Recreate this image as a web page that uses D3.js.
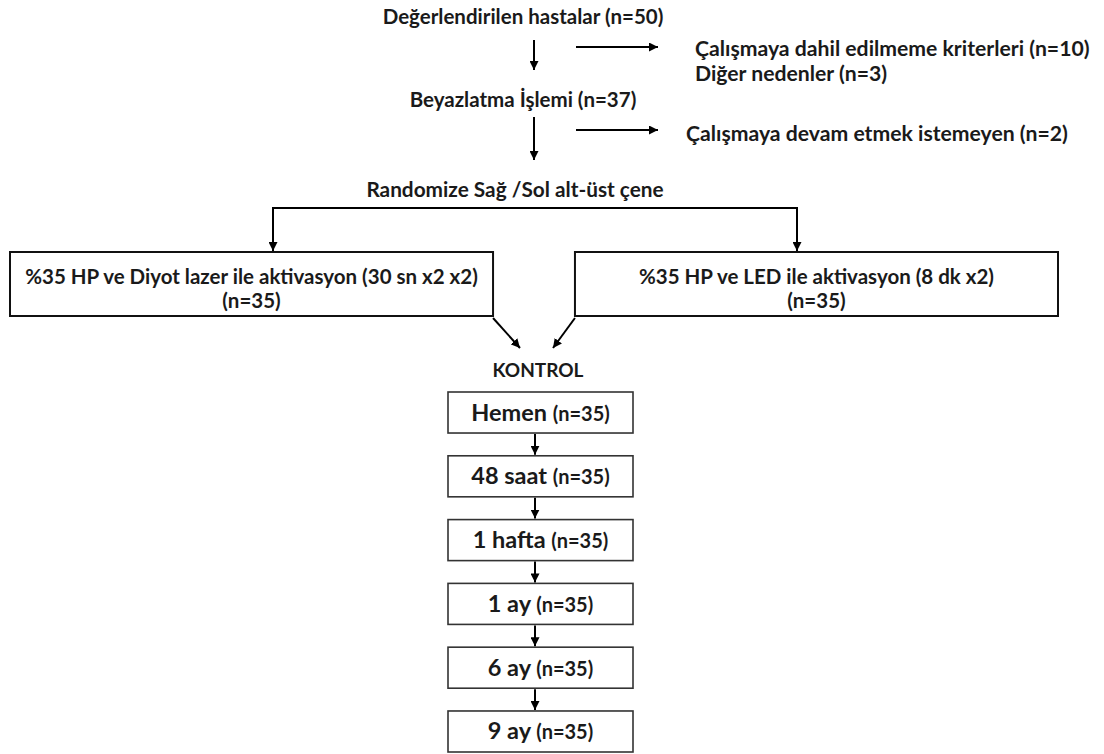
<!DOCTYPE html>
<html>
<head>
<meta charset="utf-8">
<script src="https://cdn.jsdelivr.net/npm/d3@7"></script>
<style>
  body { margin: 0; background: #fff; }
  text { font-family: Lato, "Open Sans", sans-serif; font-weight: bold; fill: #1a1a1a; }
</style>
</head>
<body>
<div id="chart"></div>
<script>
// Flow steps at the top
const topSteps = ["Değerlendirilen hastalar (n=50)", "Beyazlatma İşlemi (n=37)", "Randomize Sağ /Sol alt-üst çene"];
// Patients leaving the study at each step
const exclusions = [
  ["Çalışmaya dahil edilmeme kriterleri (n=10)", "Diğer nedenler (n=3)"],
  ["Çalışmaya devam etmek istemeyen (n=2)"]
];
// Treatment groups
const groupLabels = ["%35 HP ve Diyot lazer ile aktivasyon  (30 sn x2 x2)", "%35 HP ve LED ile aktivasyon (8 dk x2)"];
const groupN = [35, 35];
// Control timeline
const controlLabel = "KONTROL";
const stages = ["Hemen", "48 saat", "1 hafta", "1 ay", "6 ay", "9 ay"];
const stageN = [35, 35, 35, 35, 35, 35];

const W = 1104, H = 754;
const cx = 534;              // main vertical flow
const stepX = [523, 523, 515];
const stepBaseline = [24, 107, 197];
const stepSize = ["20.5px", "20.5px", "20.8px"];
const exitArrowY = [47, 130];
const exitX = [695, 686];
const exitBaseline = [[56, 81], [141]];
const fs = "20.5px";

const svg = d3.select("#chart").append("svg")
  .attr("width", W)
  .attr("height", H);

// arrow head
svg.append("defs").append("marker")
  .attr("id", "head")
  .attr("viewBox", "0 0 10 10")
  .attr("refX", 10).attr("refY", 5)
  .attr("markerUnits", "userSpaceOnUse")
  .attr("markerWidth", 9).attr("markerHeight", 9)
  .attr("orient", "auto")
  .append("path")
  .attr("d", "M0,0 L10,5 L0,10 z")
  .attr("fill", "#000");

function arrow(x1, y1, x2, y2) {
  svg.append("line")
    .attr("x1", x1).attr("y1", y1)
    .attr("x2", x2).attr("y2", y2)
    .attr("stroke", "#000")
    .attr("stroke-width", 2)
    .attr("marker-end", "url(#head)");
}

// top steps
svg.selectAll(".step")
  .data(topSteps)
  .enter().append("text")
  .attr("class", "step")
  .attr("x", (d, i) => stepX[i])
  .attr("y", (d, i) => stepBaseline[i])
  .attr("text-anchor", "middle")
  .style("font-size", (d, i) => stepSize[i])
  .text(d => d);

arrow(cx, 40, cx, 70);
arrow(cx, 117, cx, 160);

// exclusions
exclusions.forEach((lines, i) => {
  arrow(576, exitArrowY[i], 658, exitArrowY[i]);
  svg.selectAll(".exit" + i)
    .data(lines)
    .enter().append("text")
    .attr("x", exitX[i])
    .attr("y", (d, j) => exitBaseline[i][j])
    .style("font-size", "21.2px")
    .text(d => d);
});

// group boxes
const gx = d3.scaleBand()
  .domain(groupLabels)
  .range([10, 1058])
  .paddingInner(0.145);
const boxTop = 252, boxH = 64;
const branchX = [273, 797];

svg.append("path")
  .attr("d", `M${branchX[0]},208 H${branchX[1]}`)
  .attr("stroke", "#000").attr("stroke-width", 2).attr("fill", "none");
branchX.forEach(x => arrow(x, 207, x, boxTop - 1));

const groups = svg.selectAll(".group")
  .data(groupLabels)
  .enter().append("g")
  .attr("class", "group");

groups.append("rect")
  .attr("x", d => gx(d))
  .attr("y", boxTop)
  .attr("width", gx.bandwidth())
  .attr("height", boxH)
  .attr("fill", "#fff")
  .attr("stroke", "#111")
  .attr("stroke-width", 2);

groups.append("text")
  .attr("x", d => gx(d) + gx.bandwidth() / 2)
  .attr("y", boxTop + 32)
  .attr("text-anchor", "middle")
  .style("font-size", fs)
  .text(d => d);

groups.append("text")
  .attr("x", d => gx(d) + gx.bandwidth() / 2)
  .attr("y", boxTop + 56)
  .attr("text-anchor", "middle")
  .style("font-size", fs)
  .text((d, i) => `(n=${groupN[i]})`);

// arrows into control
const gRight = gx(groupLabels[0]) + gx.bandwidth();
const gLeft = gx(groupLabels[1]);
arrow(gRight, boxTop + boxH + 2, 520, 348);
arrow(gLeft, boxTop + boxH + 2, 553, 348);

svg.append("text")
  .attr("x", 538)
  .attr("y", 377)
  .attr("text-anchor", "middle")
  .style("font-size", "19px")
  .text(controlLabel);

// control stages
const sy = d3.scaleBand()
  .domain(stages)
  .range([392, 752])
  .paddingInner(0.357);
const sx0 = 448, sw = 185, sMid = sx0 + sw / 2;

const st = svg.selectAll(".stage")
  .data(stages)
  .enter().append("g")
  .attr("class", "stage");

st.append("rect")
  .attr("x", sx0)
  .attr("y", d => sy(d))
  .attr("width", sw)
  .attr("height", sy.bandwidth())
  .attr("fill", "#fff")
  .attr("stroke", "#333")
  .attr("stroke-width", 1.6);

const lbl = st.append("text")
  .attr("x", sMid)
  .attr("y", d => sy(d) + sy.bandwidth() / 2 + 8)
  .attr("text-anchor", "middle");
lbl.append("tspan")
  .style("font-size", "23.5px")
  .text(d => d + " ");
lbl.append("tspan")
  .style("font-size", "20px")
  .text((d, i) => `(n=${stageN[i]})`);

// arrows between stages
stages.slice(1).forEach((d, i) => {
  const prev = stages[i];
  arrow(535, sy(prev) + sy.bandwidth() + 1, 535, sy(d) - 1);
});
</script>
</body>
</html>
